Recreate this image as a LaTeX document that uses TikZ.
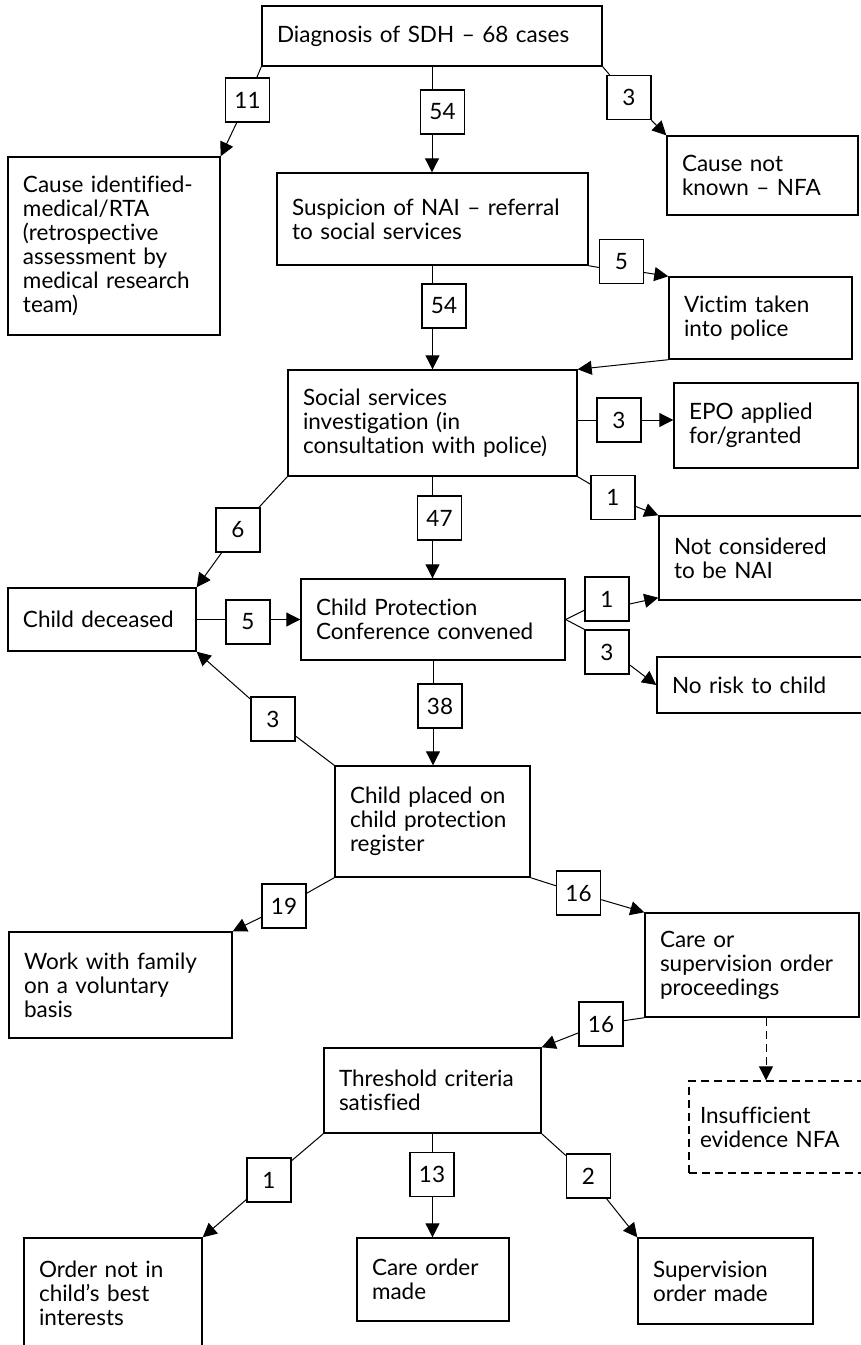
\documentclass[tikz,border=0pt]{standalone}
\usepackage{fontspec}
\setmainfont{Lato}[Ligatures=NoCommon]
\usetikzlibrary{arrows.meta,calc}
\newcommand\flowfont{\fontsize{22.5}{24}\selectfont}
\begin{document}
\begin{tikzpicture}[x=1pt,y=-1pt,
  box/.style n args={3}{draw,line width=1.4pt,inner xsep=15pt,inner ysep=0pt,
     align=left,font=\flowfont,text width=#1,minimum height=#2,#3},
  num/.style={draw,line width=1.4pt,minimum width=44pt,minimum height=44pt,
     inner sep=0pt,font=\flowfont},
  ln/.style={line width=1pt},
  arr/.style={line width=1pt,-{Triangle[length=14pt,width=14pt]}},
]
\useasboundingbox (0,0) rectangle (861,1345);
\clip (0,0) rectangle (861,1345);

% ---- boxes ----
\node[box={310pt}{60pt}{}] (diag) at (432,36) {Diagnosis of SDH – 68 cases};
\node[box={182pt}{178pt}{}] (cause) at (114,246) {Cause identified-\\medical/RTA\\(retrospective\\assessment by\\medical research\\team)};
\node[box={281pt}{92pt}{}] (susp) at (432.5,219) {Suspicion of NAI – referral\\to social services};
\node[box={161pt}{79pt}{}] (notknown) at (762.5,175.5) {Cause not\\known – NFA};
\node[box={153pt}{82pt}{}] (victim) at (760.5,318) {Victim taken\\into police};
\node[box={259pt}{106pt}{}] (social) at (432.5,423) {Social services\\investigation (in\\consultation with police)};
\node[box={154pt}{85pt}{}] (epo) at (766,425.5) {EPO applied\\for/granted};
\node[box={211pt}{84pt}{}] (notcons) at (779.5,558) {Not considered\\to be NAI};
\node[box={158pt}{63pt}{}] (deceased) at (102,619.5) {Child deceased};
\node[box={234pt}{81pt}{}] (cpc) at (433,619.5) {Child Protection\\Conference convened};
\node[box={213pt}{56pt}{}] (norisk) at (778.5,685) {No risk to child};
\node[box={165pt}{111pt}{}] (placed) at (432.5,821.5) {Child placed on\\child protection\\register};
\node[box={193pt}{106pt}{}] (work) at (120.5,985) {Work with family\\on a voluntary\\basis};
\node[box={184pt}{104pt}{}] (care) at (752,965) {Care or\\supervision order\\proceedings};
\node[box={187pt}{85pt}{}] (thresh) at (432.5,1090.5) {Threshold criteria\\satisfied};
\node[box={189pt}{92pt}{inner xsep=11pt,dash pattern=on 8pt off 5pt}] (insuff) at (794.5,1127) {Insufficient\\evidence NFA};
\node[box={148pt}{110pt}{}] (ordernot) at (113,1293) {Order not in\\child’s best\\interests};
\node[box={122pt}{83pt}{}] (careorder) at (433,1279.5) {Care order\\made};
\node[box={145pt}{86pt}{}] (superv) at (725.5,1281) {Supervision\\order made};

% ---- count labels ----
\node[num] (n11) at (247.5,100) {11};
\node[num] (n54a) at (442.5,112) {54};
\node[num] (n3a) at (629,97.5) {3};
\node[num] (n5a) at (621.5,261.5) {5};
\node[num] (n54b) at (444,306) {54};
\node[num] (n3b) at (619,420) {3};
\node[num] (n1a) at (613,497.5) {1};
\node[num] (n6) at (238,530) {6};
\node[num] (n47) at (439.5,518) {47};
\node[num] (n5b) at (248,622) {5};
\node[num] (n1b) at (607,599) {1};
\node[num] (n3c) at (607,652) {3};
\node[num] (n3d) at (273,719) {3};
\node[num] (n38) at (440,706) {38};
\node[num] (n19) at (284,906) {19};
\node[num] (n16a) at (578.5,893) {16};
\node[num] (n16b) at (601,1024) {16};
\node[num] (n1c) at (269,1180) {1};
\node[num] (n13) at (432,1174.5) {13};
\node[num] (n2) at (588.5,1176) {2};

% ---- connectors ----
\draw[ln] (diag.south west) -- (n11);
\draw[arr] (n11) -- (cause.north east);
\draw[ln] (diag.south) -- (diag.south |- n54a.north);
\draw[arr] (diag.south |- n54a.south) -- (diag.south |- susp.north);
\draw[ln] (diag.south east) -- (n3a);
\draw[arr] (n3a) -- (notknown.north west);

\draw[ln] (susp.south east) -- ($(n5a.west)+(0,6)$);
\draw[arr] ($(n5a.east)+(0,11)$) -- (victim.north west);
\draw[ln] (susp.south) -- (susp.south |- n54b.north);
\draw[arr] (susp.south |- n54b.south) -- (susp.south |- social.north);
\draw[arr] (victim.south west) -- (social.north east);

\draw[ln] (n3b.west -| social.east) -- (n3b.west);
\draw[arr] (n3b.east) -- (n3b.east -| epo.west);
\draw[ln] (social.south east) -- (n1a);
\draw[arr] (n1a) -- (notcons.north west);
\draw[ln] (social.south west) -- (n6);
\draw[arr] (n6) -- (deceased.north east);
\draw[ln] (social.south) -- (social.south |- n47.north);
\draw[arr] (social.south |- n47.south) -- (social.south |- cpc.north);

\draw[ln] (deceased.east) -- (deceased.east -| n5b.west);
\draw[arr] (deceased.east -| n5b.east) -- (deceased.east -| cpc.west);
\draw[ln] (cpc.east) -- (n1b);
\draw[arr] ($(n1b.east)+(0,5)$) -- ($(notcons.south west)+(0,-3)$);
\draw[ln] (cpc.east) -- (n3c.north west);
\draw[arr] ($(n3c.east)+(0,13)$) -- (norisk.west);
\draw[ln] (cpc.south) -- (cpc.south |- n38.north);
\draw[arr] (cpc.south |- n38.south) -- (cpc.south |- placed.north);

\draw[ln] (placed.north west) -- (n3d);
\draw[arr] (n3d) -- (deceased.south east);
\draw[ln] (placed.south west) -- (n19);
\draw[arr] (n19) -- (work.north east);
\draw[ln] (placed.south east) -- (n16a);
\draw[arr] (n16a) -- (care.north west);

\draw[ln] (care.south west) -- (n16b);
\draw[arr] (n16b) -- (thresh.north east);
\coordinate (cs) at ($(care.south)+(14,0)$);
\draw[arr,dash pattern=on 8pt off 5pt] (cs) -- (cs |- insuff.north);

\draw[ln] (thresh.south west) -- (n1c);
\draw[arr] (n1c) -- (ordernot.north east);
\draw[ln] (thresh.south) -- (thresh.south |- n13.north);
\draw[arr] (thresh.south |- n13.south) -- (thresh.south |- careorder.north);
\draw[ln] (thresh.south east) -- (n2);
\draw[arr] (n2) -- (superv.north west);
\end{tikzpicture}
\end{document}
